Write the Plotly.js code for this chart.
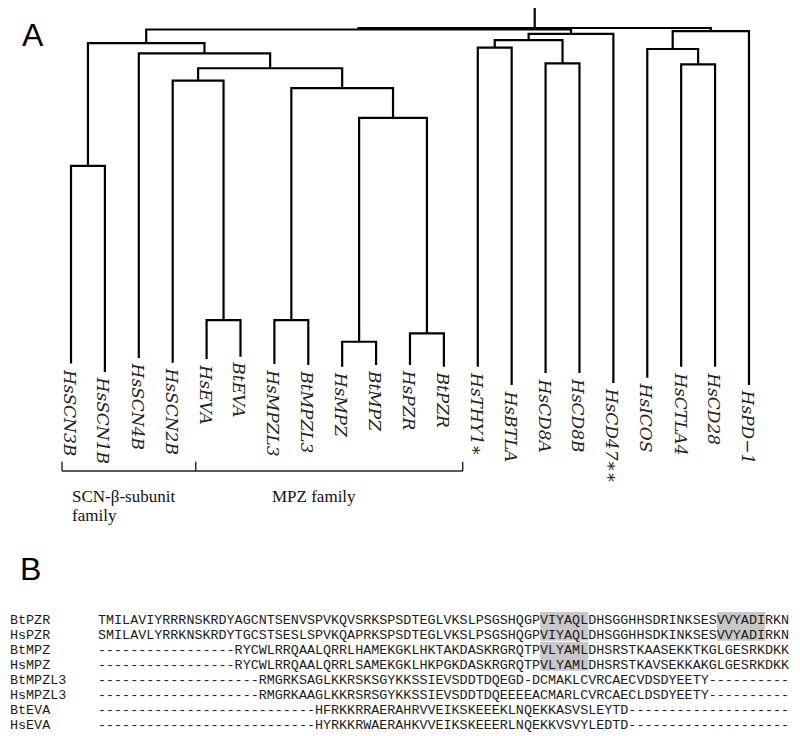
<!DOCTYPE html>
<html><head><meta charset="utf-8">
<script src="https://cdn.plot.ly/plotly-3.0.1.min.js"></script>
<style>html,body{margin:0;padding:0;background:#fff;}#chart{width:800px;height:736px;}</style>
</head><body><div id="chart"></div>
<script>
// ---------- Panel A: dendrogram data ----------
const leafLabels = ['HsSCN3B','HsSCN1B','HsSCN4B','HsSCN2B','HsEVA','BtEVA','HsMPZL3','BtMPZL3',
  'HsMPZ','BtMPZ','HsPZR','BtPZR','HsTHY1\u2217','HsBTLA','HsCD8A','HsCD8B','HsCD47\u2217\u2217',
  'HsICOS','HsCTLA4','HsCD28','HsPD\u22121'];
// height at which each leaf branch ends (hanging labels)
const leafEndHeights = [0.025,0.000,0.041,0.027,0.038,0.044,0.023,0.020,0.015,0.020,0.020,
  0.015,0.015,-0.038,-0.003,-0.003,-0.032,-0.017,0.015,0.015,-0.038];
// merges (R hclust style: negative = leaf index, positive = earlier merge)
const mergeLeft  = [-9,-11,-5,-7,-1, 1, 4,-4, 8,-3, 5,-15,-13,13,14,-19,-18,17,11,19];
const mergeRight = [-10,-12,-6,-8,-2, 2, 6, 3, 7, 9,10,-16,-14,12,-17,-20,16,-21,15,18];
const mergeHeights = [0.088,0.1125,0.151,0.151,0.599,0.739,0.825,0.847,0.883,0.926,0.956,
  0.897,0.943,0.965,0.983,0.894,0.939,0.991,0.9956,1.000];
const rootStemTop = 1.058;
const familyNames = [['SCN-\u03b2-subunit','family'],['MPZ family']];
const familyFirstLeaf = [1,5];
const familyLastLeaf = [4,12];

// ---------- Panel B: alignment data ----------
const alignNames = ['BtPZR','HsPZR','BtMPZ','HsMPZ','BtMPZL3','HsMPZL3','BtEVA','HsEVA'];
const alignSeqs = [
  'TMILAVIYRRRNSKRDYAGCNTSENVSPVKQVSRKSPSDTEGLVKSLPSGSHQGPVIYAQLDHSGGHHSDRINKSESVVYADIRKN',
  'SMILAVLYRRKNSKRDYTGCSTSESLSPVKQAPRKSPSDTEGLVKSLPSGSHQGPVIYAQLDHSGGHHSDKINKSESVVYADIRKN',
  '-----------------RYCWLRRQAALQRRLHAMEKGKLHKTAKDASKRGRQTPVLYAMLDHSRSTKAASEKKTKGLGESRKDKK',
  '-----------------RYCWLRRQAALQRRLSAMEKGKLHKPGKDASKRGRQTPVLYAMLDHSRSTKAVSEKKAKGLGESRKDKK',
  '--------------------RMGRKSAGLKKRSKSGYKKSSIEVSDDTDQEGD-DCMAKLCVRCAECVDSDYEETY----------',
  '--------------------RMGRKAAGLKKRSRSGYKKSSIEVSDDTDQEEEEACMARLCVRCAECLDSDYEETY----------',
  '---------------------------HFRKKRRAERAHRVVEIKSKEEEKLNQEKKASVSLEYTD--------------------',
  '---------------------------HYRKKRWAERAHKVVEIKSKEEERLNQEKKVSVYLEDTD--------------------'
];
const motifFirstRow = [0,0,2];
const motifLastRow  = [1,1,3];
const motifStart = [56,78,56];
const motifEnd   = [61,83,61];

// ---------- layout constants ----------
const PX_PER_LEAF = 33.898, LEAF1_PX = 71;
const W = 800, H = 736;
const HEIGHT_PX = 344, HEIGHT0_PX = 372;
const CHAR_W = 8.04, SEQ_X0 = 98, ROW0_PX = 621, ROW_H = 15;
const bracketEdges = [0.735, 4.68, 12.555];
const bracketH = -0.288, bracketTickH = -0.261;
const familyTextX = [1.03, 6.94];
const familyLineH = [-0.362, -0.418];

// ---------- build dendrogram ----------
const nodeX = [], nodeH = [];
function childPos(c){ return c < 0 ? [(-c), leafEndHeights[-c-1]] : [nodeX[c-1], nodeH[c-1]]; }
const tx = [], ty = [];
for (let k = 0; k < mergeHeights.length; k++) {
  const [xl, hl] = childPos(mergeLeft[k]);
  const [xr, hr] = childPos(mergeRight[k]);
  const h = mergeHeights[k];
  nodeX.push((xl + xr) / 2); nodeH.push(h);
  tx.push(xl, xl, xr, xr, null); ty.push(hl, h, h, hr, null);
}
const rootX = nodeX[nodeX.length-1], rootH = nodeH[nodeH.length-1];
tx.push(rootX, rootX, null); ty.push(rootH, rootStemTop, null);

// brackets
const bx = [bracketEdges[0], bracketEdges[bracketEdges.length-1], null];
const by = [bracketH, bracketH, null];
bracketEdges.forEach(e => { bx.push(e, e, null); by.push(bracketH, bracketTickH, null); });

// highlight boxes
const hx = [], hy = [];
for (let m = 0; m < motifStart.length; m++) {
  const x0 = motifStart[m] - 1, x1 = motifEnd[m];
  const y0 = motifFirstRow[m] - 0.6, y1 = motifLastRow[m] + 0.32;
  hx.push(x0, x1, x1, x0, x0, null); hy.push(y0, y0, y1, y1, y0, null);
}

const traces = [
  {x: tx, y: ty, type: 'scatter', mode: 'lines', line: {color: '#000', width: 2.2}, hoverinfo: 'skip', connectgaps: false},
  {x: bx, y: by, type: 'scatter', mode: 'lines', line: {color: '#222', width: 1.4}, hoverinfo: 'skip', connectgaps: false},
  {x: hx, y: hy, xaxis: 'x2', yaxis: 'y2', type: 'scatter', mode: 'lines', fill: 'toself',
   fillcolor: '#c8c8c8', line: {width: 0, color: 'rgba(0,0,0,0)'}, hoverinfo: 'skip'}
];

const annotations = [];
leafLabels.forEach((lab, i) => {
  annotations.push({x: i+1, y: leafEndHeights[i], xref: 'x', yref: 'y', text: lab, showarrow: false,
    textangle: 90, xanchor: 'center', yanchor: 'top', yshift: -5, xshift: -1, borderpad: 0, borderwidth: 0,
    font: {family: 'DejaVu Serif', size: 17, color: '#222', style: 'italic'}});
});
familyNames.forEach((lines, f) => {
  lines.forEach((ln, j) => {
    annotations.push({x: familyTextX[f], y: familyLineH[j], xref: 'x', yref: 'y', text: ln, showarrow: false,
      xanchor: 'left', yanchor: 'middle', borderpad: 0, borderwidth: 0,
      font: {family: 'Liberation Serif, Times New Roman, serif', size: 17, color: '#111'}});
  });
});
annotations.push({x: 22/W, y: 1 - 35/H, xref: 'paper', yref: 'paper', text: 'A', showarrow: false,
  xanchor: 'left', yanchor: 'middle', borderpad: 0, borderwidth: 0,
  font: {family: 'Liberation Sans, Arial, sans-serif', size: 32, color: '#000'}});
annotations.push({x: 20/W, y: 1 - 569/H, xref: 'paper', yref: 'paper', text: 'B', showarrow: false,
  xanchor: 'left', yanchor: 'middle', borderpad: 0, borderwidth: 0,
  font: {family: 'Liberation Sans, Arial, sans-serif', size: 32, color: '#000'}});
const monoFont = {family: 'Liberation Mono, Courier New, monospace', size: 13.4, color: '#1a1a1a'};
alignNames.forEach((nm, r) => {
  annotations.push({x: (10 - SEQ_X0)/CHAR_W, y: r, xref: 'x2', yref: 'y2', text: nm, showarrow: false,
    xanchor: 'left', yanchor: 'middle', yshift: 1, borderpad: 0, borderwidth: 0, font: monoFont});
  annotations.push({x: 0, y: r, xref: 'x2', yref: 'y2', text: alignSeqs[r], showarrow: false,
    xanchor: 'left', yanchor: 'middle', yshift: 1, borderpad: 0, borderwidth: 0, font: monoFont});
});

const leafRange = [1 - LEAF1_PX/PX_PER_LEAF, 1 + (W - LEAF1_PX)/PX_PER_LEAF];
const hRange = [(HEIGHT0_PX - H)/HEIGHT_PX, HEIGHT0_PX/HEIGHT_PX];
const cRange = [-SEQ_X0/CHAR_W, (W - SEQ_X0)/CHAR_W];
const rRange = [(H - ROW0_PX)/ROW_H, -ROW0_PX/ROW_H];

const layout = {
  width: W, height: H, margin: {l: 0, r: 0, t: 0, b: 0},
  paper_bgcolor: '#fff', plot_bgcolor: 'rgba(0,0,0,0)', showlegend: false,
  xaxis: {range: leafRange, visible: false, fixedrange: true},
  yaxis: {range: hRange, visible: false, fixedrange: true},
  xaxis2: {range: cRange, visible: false, overlaying: 'x', anchor: 'y2'},
  yaxis2: {range: rRange, visible: false, overlaying: 'y', anchor: 'x2'},
  annotations: annotations
};
Plotly.newPlot('chart', traces, layout, {staticPlot: true, displayModeBar: false});
</script></body></html>
